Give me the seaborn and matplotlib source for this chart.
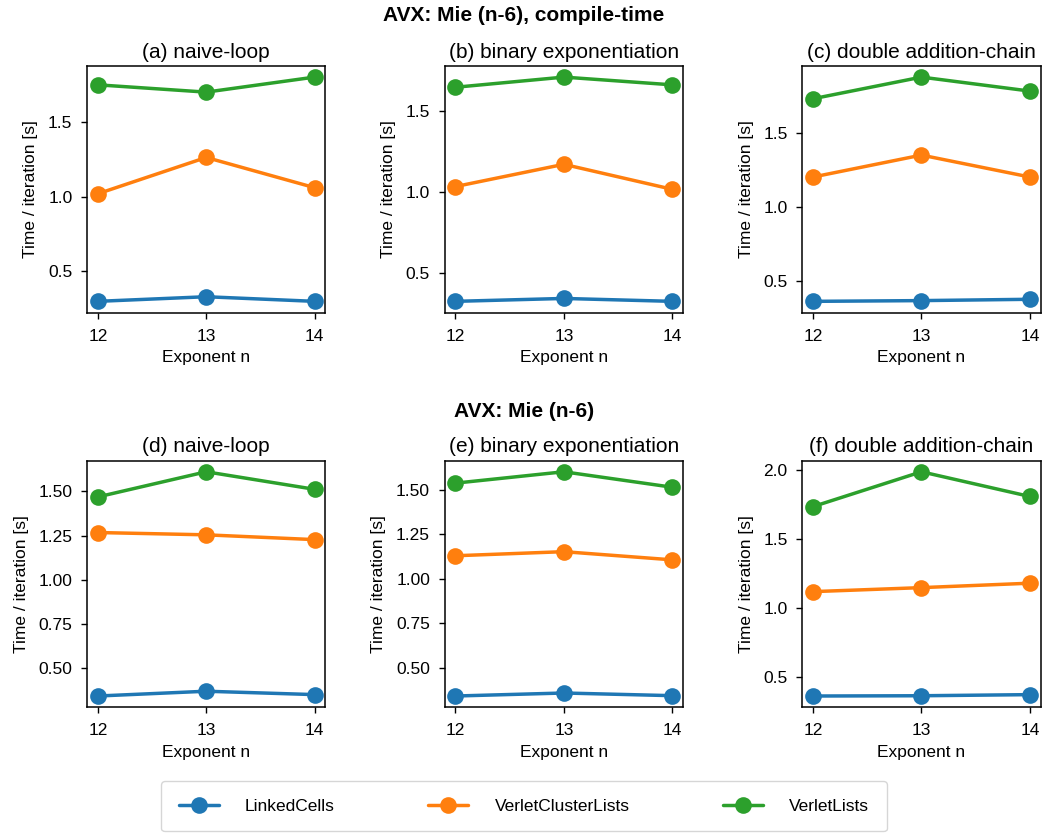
import numpy as np
import pandas as pd
import matplotlib
matplotlib.use('Agg')
import matplotlib.pyplot as plt
from matplotlib.ticker import MultipleLocator
import seaborn as sns

sns.set_style('ticks', {'axes.edgecolor': 'black', 'text.color': 'black',
                        'axes.labelcolor': 'black', 'xtick.color': 'black',
                        'ytick.color': 'black'})
plt.rcParams['font.family'] = ['Liberation Sans', 'DejaVu Sans']
plt.rcParams['font.size'] = 12.5
plt.rcParams['axes.titlesize'] = 15
plt.rcParams['axes.labelsize'] = 12.5
plt.rcParams['xtick.labelsize'] = 12.5
plt.rcParams['ytick.labelsize'] = 12.5
plt.rcParams['xtick.major.size'] = 4.5
plt.rcParams['ytick.major.size'] = 4.5
plt.rcParams['xtick.major.width'] = 1.0
plt.rcParams['ytick.major.width'] = 1.0
plt.rcParams['xtick.major.pad'] = 7
plt.rcParams['ytick.major.pad'] = 6
plt.rcParams['axes.linewidth'] = 1.1

# data
exponents = [12, 13, 14]
containers = ['LinkedCells', 'VerletClusterLists', 'VerletLists']
functors = ['naive-loop', 'binary exponentiation', 'double addition-chain']

# compile-time runs, one row per functor (naive, binary, addition-chain)
ct_linkedcells = [[0.297, 0.328, 0.297], [0.322, 0.340, 0.322], [0.359, 0.364, 0.373]]
ct_clusterlists = [[1.020, 1.264, 1.061], [1.034, 1.172, 1.017], [1.204, 1.353, 1.204]]
ct_verletlists = [[1.752, 1.703, 1.804], [1.650, 1.713, 1.665], [1.736, 1.883, 1.788]]

# runtime exponent runs
rt_linkedcells = [[0.344, 0.371, 0.352], [0.340, 0.357, 0.342], [0.362, 0.364, 0.372]]
rt_clusterlists = [[1.267, 1.254, 1.227], [1.130, 1.153, 1.107], [1.118, 1.147, 1.179]]
rt_verletlists = [[1.468, 1.610, 1.511], [1.539, 1.603, 1.516], [1.734, 1.986, 1.807]]

rows = []
for mode, series in [('compile-time', [ct_linkedcells, ct_clusterlists, ct_verletlists]),
                     ('runtime', [rt_linkedcells, rt_clusterlists, rt_verletlists])]:
    for c, vals in zip(containers, series):
        for f, fvals in zip(functors, vals):
            for n, t in zip(exponents, fvals):
                rows.append([mode, f, c, n, t])
df = pd.DataFrame(rows, columns=['mode', 'functor', 'container', 'n', 'time'])

fig, axes = plt.subplots(2, 3, figsize=(10.48, 8.34), dpi=100)
plt.subplots_adjust(left=0.083, right=0.993, top=0.921, bottom=0.152,
                    wspace=0.5, hspace=0.6)

letters = 'abcdef'
steps = [0.5, 0.5, 0.5, 0.25, 0.25, 0.5]
i = 0
for r, mode in enumerate(['compile-time', 'runtime']):
    for c, f in enumerate(functors):
        ax = axes[r, c]
        sub = df[(df['mode'] == mode) & (df['functor'] == f)]
        sns.lineplot(data=sub, x='n', y='time', hue='container', hue_order=containers,
                     palette='tab10', marker='o', markersize=12, markeredgewidth=0,
                     linewidth=2.5, ax=ax, legend=(i == 0))
        ax.set_title('(%s) %s' % (letters[i], f))
        ax.set_xlabel('Exponent n', labelpad=5)
        ax.set_ylabel('Time / iteration [s]', labelpad=7)
        ax.set_xticks(exponents)
        ax.yaxis.set_major_locator(MultipleLocator(steps[i]))
        i += 1

handles, labels = axes[0, 0].get_legend_handles_labels()
axes[0, 0].get_legend().remove()
fig.legend(handles, labels, loc='lower center', bbox_to_anchor=(0.5, -0.007), ncol=3,
           fontsize=12.5, columnspacing=5.4, handlelength=2.3, handletextpad=1.5,
           borderpad=1.0, frameon=True, fancybox=True)

fig.text(0.5, 0.982, 'AVX: Mie (n-6), compile-time', ha='center', va='center',
         fontsize=15, fontweight='bold')
fig.text(0.5, 0.507, 'AVX: Mie (n-6)', ha='center', va='center',
         fontsize=15, fontweight='bold')

plt.savefig('out.png', dpi=100)
